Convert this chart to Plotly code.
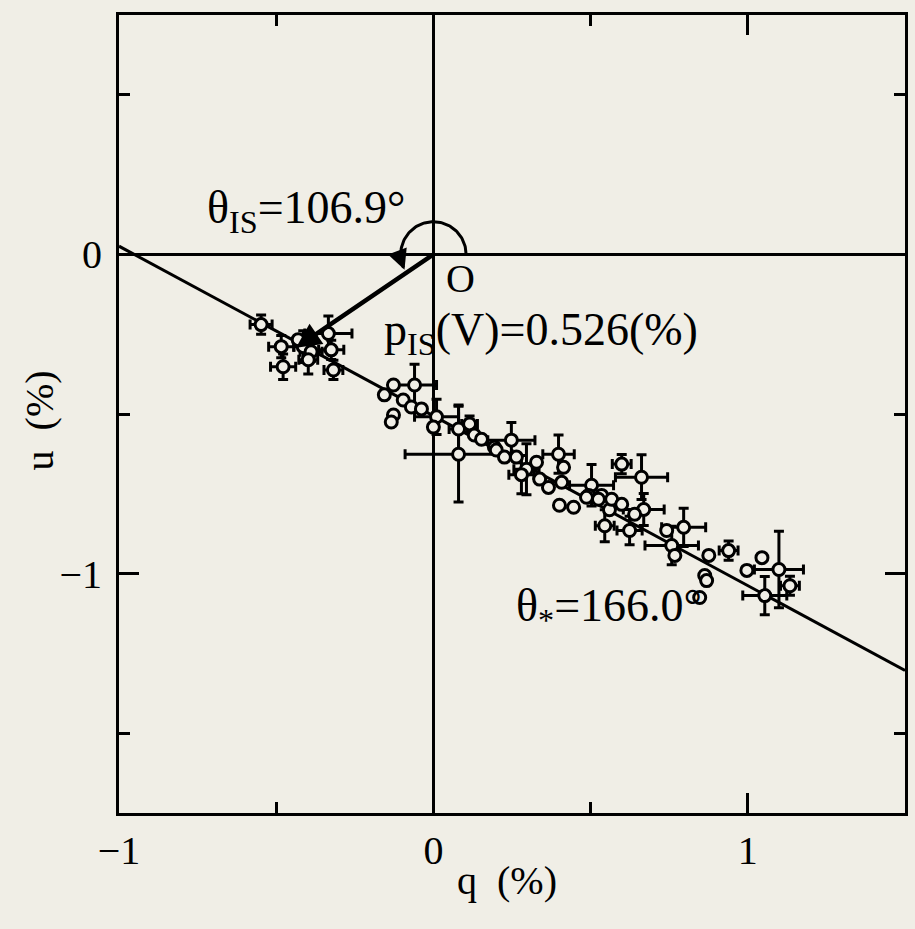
import numpy as np
import plotly.graph_objects as go

# ---------------- data ----------------
# points with error bars: q, u, dq, du  (percent)
eb_q = [-0.548, -0.484, -0.478, -0.414, -0.389, -0.398, -0.334, -0.325, -0.318,
        -0.060, 0.010, 0.080, 0.080, 0.115, 0.248, 0.296, 0.398, 0.503, 0.599,
        0.662, 0.669, 0.624, 0.796, 0.758, 0.939, 1.099, 1.054, 1.134, 0.280, 0.545]
eb_u = [-0.220, -0.289, -0.352, -0.289, -0.305, -0.330, -0.248, -0.299, -0.362,
        -0.409, -0.509, -0.547, -0.626, -0.531, -0.582, -0.673, -0.626, -0.723, -0.657,
        -0.698, -0.799, -0.865, -0.855, -0.912, -0.928, -0.987, -1.069, -1.038, -0.690, -0.850]
eb_dq = [0.035, 0.040, 0.040, 0.030, 0.035, 0.030, 0.075, 0.040, 0.030,
         0.070, 0.070, 0.030, 0.170, 0.025, 0.075, 0.040, 0.050, 0.070, 0.030,
         0.083, 0.065, 0.040, 0.070, 0.085, 0.030, 0.078, 0.070, 0.030, 0.040, 0.030]
eb_du = [0.030, 0.035, 0.040, 0.050, 0.030, 0.045, 0.055, 0.030, 0.030,
         0.065, 0.055, 0.075, 0.150, 0.025, 0.055, 0.080, 0.060, 0.065, 0.030,
         0.070, 0.050, 0.045, 0.060, 0.060, 0.030, 0.120, 0.060, 0.030, 0.060, 0.050]

# points without visible error bars
pt_q = [-0.430, -0.156, -0.127, -0.096, -0.127, -0.134, -0.070, -0.038, 0.000,
        0.130, 0.153, 0.194, 0.200, 0.226, 0.264, 0.328, 0.414, 0.408, 0.366,
        0.338, 0.401, 0.446, 0.494, 0.535, 0.560, 0.487, 0.525, 0.567, 0.599,
        0.640, 0.742, 0.768, 0.876, 0.863, 0.869, 0.847, 1.045, 0.997]
pt_u = [-0.267, -0.440, -0.409, -0.456, -0.503, -0.525, -0.478, -0.484, -0.541,
        -0.566, -0.579, -0.604, -0.613, -0.635, -0.635, -0.651, -0.667, -0.714, -0.730,
        -0.704, -0.786, -0.792, -0.755, -0.755, -0.800, -0.761, -0.767, -0.767, -0.783,
        -0.814, -0.865, -0.943, -0.943, -1.006, -1.022, -1.075, -0.950, -0.990]

# fit / interstellar parameters
theta_star = 166.0      # deg
fit_intercept = -0.506  # u at q = 0
theta_is = 106.9        # deg
p_is = 0.526            # %
x_range = [-1.0, 1.5]
y_range = [-1.75, 0.75]

# ---------------- figure ----------------
BG = "#f0eee6"
FONT = "Liberation Serif"

slope = np.tan(np.radians(2 * theta_star))
fit_q = np.array(x_range)
fit_u = fit_intercept + slope * fit_q

q_is = p_is * np.cos(np.radians(2 * theta_is))
u_is = p_is * np.sin(np.radians(2 * theta_is))

fig = go.Figure()

fig.add_trace(go.Scatter(x=fit_q, y=fit_u, mode="lines",
                         line=dict(color="black", width=3), showlegend=False,
                         hoverinfo="skip"))

# angle arc around origin
r = 0.104
arc_end = 2 * theta_is - 10
ang = np.radians(np.linspace(0, arc_end, 80))
fig.add_trace(go.Scatter(x=r * np.cos(ang), y=r * np.sin(ang) * 0.985, mode="lines",
                         line=dict(color="black", width=3), showlegend=False,
                         hoverinfo="skip"))

fig.add_trace(go.Scatter(
    x=eb_q, y=eb_u, mode="markers",
    error_x=dict(type="data", array=eb_dq, color="black", thickness=3, width=5),
    error_y=dict(type="data", array=eb_du, color="black", thickness=3, width=5),
    marker=dict(symbol="circle", size=12, color=BG, line=dict(color="black", width=3)),
    showlegend=False))

fig.add_trace(go.Scatter(
    x=pt_q, y=pt_u, mode="markers",
    marker=dict(symbol="circle", size=12, color=BG, line=dict(color="black", width=3)),
    showlegend=False))

ann = []
# interstellar vector arrow
ann.append(dict(x=q_is, y=u_is, ax=0, ay=0, xref="x", yref="y", axref="x", ayref="y",
                showarrow=True, arrowhead=2, arrowsize=1.1, arrowwidth=4.5,
                arrowcolor="black", text=""))
# arc arrowhead
a1 = np.radians(arc_end + 4)
a0 = np.radians(arc_end - 10)
ann.append(dict(x=r * np.cos(a1), y=r * np.sin(a1) * 0.985,
                ax=r * np.cos(a0), ay=r * np.sin(a0) * 0.985,
                xref="x", yref="y", axref="x", ayref="y",
                showarrow=True, arrowhead=2, arrowsize=1.6, arrowwidth=2.5,
                arrowcolor="black", text=""))

tf = dict(family=FONT, size=46, color="black")
ann.append(dict(x=-0.405, y=0.135, xref="x", yref="y", text="θ<sub>IS</sub>=106.9°",
                showarrow=False, font=tf, xanchor="center", yanchor="middle"))
ann.append(dict(x=0.035, y=-0.075, xref="x", yref="y", text="O",
                showarrow=False, font=dict(family=FONT, size=40, color="black"),
                xanchor="left", yanchor="middle"))
ann.append(dict(x=-0.165, y=-0.245, xref="x", yref="y", text="p<sub>IS</sub>(V)=0.526(%)",
                showarrow=False, font=tf, xanchor="left", yanchor="middle"))
ann.append(dict(x=0.255, y=-1.11, xref="x", yref="y", text="θ<sub>*</sub>=166.0°",
                showarrow=False, font=tf, xanchor="left", yanchor="middle"))
# axis titles
ann.append(dict(x=0.494, y=-0.084, xref="paper", yref="paper", text="q  (%)",
                showarrow=False, font=dict(family=FONT, size=40, color="black"),
                xanchor="center", yanchor="middle"))
ann.append(dict(x=-0.1, y=0.4925, xref="paper", yref="paper", text="u  (%)",
                showarrow=False, font=dict(family=FONT, size=40, color="black"),
                textangle=-90, xanchor="center", yanchor="middle"))

axis_common = dict(showline=True, linecolor="black", linewidth=3, mirror="ticks",
                   ticks="inside", ticklen=20, tickwidth=3, tickcolor="black",
                   showgrid=False, zeroline=True, zerolinecolor="black", zerolinewidth=3,
                   automargin=False,
                   tickfont=dict(family=FONT, size=40, color="black"),
                   minor=dict(ticks="inside", ticklen=11, tickwidth=3, tickcolor="black",
                              dtick=0.5, showgrid=False))

fig.update_layout(
    width=915, height=929,
    margin=dict(l=119, r=10, t=15, b=116),
    paper_bgcolor=BG, plot_bgcolor=BG,
    xaxis=dict(range=x_range, dtick=1, tick0=0, **axis_common),
    yaxis=dict(range=y_range, dtick=1, tick0=0, ticklabelstandoff=6, **axis_common),
    annotations=ann,
    showlegend=False,
)

fig.write_html("out.html", config={"displayModeBar": False},
               post_script="document.body.style.margin='0px';"
                           "document.body.style.background='" + BG + "';")
